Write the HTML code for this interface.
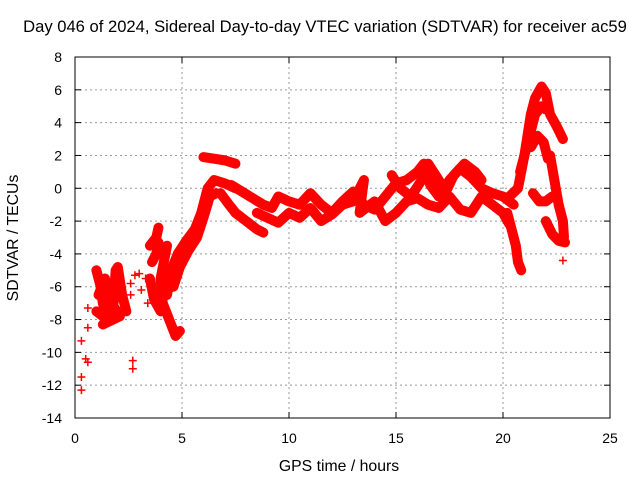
<!DOCTYPE html>
<html><head><meta charset="utf-8"><style>
body{margin:0;background:#fff}
svg{display:block;font-family:"Liberation Sans",sans-serif}
</style></head><body>
<svg id="c" width="640" height="480">
<rect width="640" height="480" fill="#fff"/>
<text x="325" y="32" font-size="16.6" text-anchor="middle">Day 046 of 2024, Sidereal Day-to-day VTEC variation (SDTVAR) for receiver ac59</text>
<text x="339" y="471" font-size="15.8" text-anchor="middle">GPS time / hours</text>
<text transform="translate(18,238) rotate(-90)" font-size="15.8" text-anchor="middle">SDTVAR / TECUs</text>
<g id="grid"></g><g id="ticks"></g><g id="marks"></g>
<rect x="75" y="57" width="535" height="361" fill="none" stroke="#000" stroke-width="1"/>
</svg>
<script>
const xTicks=[0,5,10,15,20,25];
const yTicks=[8,6,4,2,0,-2,-4,-6,-8,-10,-12,-14];
const trackRise=[[4.3,-6.5],[4.5,-5],[4.8,-4],[5.2,-3.2],[5.6,-2.5],[5.9,-1.5],[6.2,0],[6.5,0.5],[7,0.3],[7.5,0]];
const trackRise2=[[4.6,-6],[4.9,-4.8],[5.3,-3.8],[5.7,-3.0],[6.0,-1.8],[6.3,-0.5],[6.6,-0.3]];
const trackTop=[[6,1.9],[6.5,1.8],[7,1.7],[7.5,1.5]];
const trackLoop=[[4.3,-3.5],[4.0,-5.5],[4.1,-7],[4.4,-8],[4.7,-9],[4.9,-8.7]];
const trackDrop=[[6.8,-0.3],[7.2,-1],[7.5,-1.5],[8,-2],[8.5,-2.5],[8.8,-2.7]];
const trackMid=[[7.3,0.2],[7.8,-0.2],[8.3,-0.6],[8.8,-1],[9.2,-1.2],[9.5,-0.5],[10,-0.8],[10.5,-1],[11,-0.3],[11.5,-1],[12,-1.5],[12.5,-0.8],[13,-0.2],[13.5,-1],[14,-1.3],[14.5,-0.5],[15,0.3],[15.5,0.5],[16,1],[16.3,1.5],[16.6,0.2],[17,-0.5],[17.5,0.5],[18,1.2],[18.5,0.7],[19,0],[19.5,-0.3],[20,-0.5],[20.5,-1]];
const trackLow=[[8.5,-1.5],[9,-1.8],[9.5,-2.1],[10,-1.5],[10.5,-1.8],[11,-1.2],[11.5,-2],[12,-1.6],[12.5,-1],[13,-0.8],[13.5,0.5],[13.3,-1.5],[14,-0.8],[14.5,-2],[15,-1.5],[15.5,-0.8],[16,-0.6],[16.5,-1],[17,-1.2],[17.5,-0.5],[18,-1.3],[18.5,-1.5],[19,-0.5],[19.5,-1],[20,-1.5],[20.3,-2.2]];
const trackUpper=[[14.8,0.8],[15.2,0],[15.7,-0.5],[16.2,0.5],[16.5,1.5],[17,0.5],[17.3,-0.3],[17.7,0.8],[18.2,1.5],[18.7,1],[19,0.5]];
const trackSpike=[[20.2,-1.5],[20.4,-2.5],[20.6,-3.5],[20.7,-4.5],[20.85,-5]];
const trackPeak=[[20.3,-0.5],[20.7,0],[21,2],[21.3,4.5],[21.5,5.5],[21.8,6.2],[22,5.8],[22.2,4.5],[22.5,3.8],[22.8,3]];
const trackPeak2=[[20.8,1],[21.2,3],[21.5,4.5],[21.8,5],[22,4.8]];
const trackPeak3=[[21.3,2.5],[21.6,3.2],[21.9,2.8],[22.1,1.8]];
const trackSmall=[[21.4,-0.3],[21.7,-0.8],[22,-0.8],[22.3,-0.5]];
const trackRight=[[22.2,2],[22.4,0.5],[22.6,-1],[22.8,-2],[22.85,-3]];
const trackRight2=[[22.0,-2],[22.3,-2.8],[22.6,-3.2],[22.9,-3.3]];
const trackEarly=[[1.0,-5],[1.2,-6],[1.3,-7],[1.5,-8],[1.8,-7],[1.9,-5],[2.0,-4.8],[2.2,-6.5],[2.4,-7.5]];
const trackEarly2=[[1.1,-6.5],[1.4,-5.5],[1.6,-6.8],[2.1,-7.8],[1.3,-8.3]];
const trackEarly3=[[1.0,-7.5],[1.3,-7.8],[1.7,-7.2],[1.9,-6.0],[1.6,-5.8],[1.3,-6.8]];
const trackC3=[[3.5,-3.5],[3.8,-3],[3.9,-2.4]];
const trackC3b=[[3.6,-4.5],[3.8,-4.0],[3.9,-3.3]];
const trackC4=[[3.5,-5.5],[3.7,-6.8],[4.0,-7.5]];
const scatterPts=[[0.3,-9.3],[0.6,-8.5],[0.6,-7.3],[0.5,-10.4],[0.6,-10.6],[0.3,-11.5],[0.3,-12.3],[2.7,-10.5],[2.7,-11],[2.8,-5.3],[2.6,-6.5],[3.0,-5.2],[3.3,-5.5],[3.1,-6.2],[22.8,-4.4],[2.6,-5.8],[3.4,-7]];
const tracks=[trackRise,trackRise2,trackTop,trackLoop,trackDrop,trackMid,trackLow,trackUpper,trackSpike,trackPeak,trackPeak2,trackPeak3,trackSmall,trackRight,trackRight2,trackEarly,trackEarly2,trackEarly3,trackC3,trackC3b,trackC4];

const NS="http://www.w3.org/2000/svg";
const X=h=>75+h*535/25, Y=v=>57+(8-v)*361/22;
const g=document.getElementById('grid'),t=document.getElementById('ticks'),m=document.getElementById('marks');
function mk(tag,attrs,parent){const e=document.createElementNS(NS,tag);for(const k in attrs)e.setAttribute(k,attrs[k]);parent.appendChild(e);return e;}
xTicks.forEach(v=>{
  if(v>0&&v<25){const l=mk('line',{x1:X(v),x2:X(v),y1:57,y2:418,stroke:'#999','stroke-dasharray':'2,3'},g);
  
  }
  mk('line',{x1:X(v),x2:X(v),y1:418,y2:412,stroke:'#000'},t);
  mk('line',{x1:X(v),x2:X(v),y1:57,y2:63,stroke:'#000'},t);
  const tx=mk('text',{x:X(v),y:443,'font-size':14,'text-anchor':'middle'},t);tx.textContent=v;
  
  
});
yTicks.forEach(v=>{
  if(v<8&&v>-14){const l=mk('line',{x1:75,x2:610,y1:Y(v),y2:Y(v),stroke:'#999','stroke-dasharray':'2,3'},g);
  
  }
  mk('line',{x1:75,x2:81,y1:Y(v),y2:Y(v),stroke:'#000'},t);
  mk('line',{x1:610,x2:604,y1:Y(v),y2:Y(v),stroke:'#000'},t);
  const tx=mk('text',{x:62,y:Y(v)+5,'font-size':14,'text-anchor':'end'},t);tx.textContent=v;
  
  
});
function plus(h,v){
  const p=mk('path',{d:`M${X(h)-4},${Y(v)}h8M${X(h)},${Y(v)-4}v8`,stroke:'#f00','stroke-width':1.5},m);
  
  
}
tracks.forEach(tr=>{
  const pl=mk('polyline',{points:tr.map(p=>X(p[0])+','+Y(p[1])).join(' '),fill:'none',stroke:'#f00','stroke-width':10,'stroke-linejoin':'round','stroke-linecap':'round'},m);
  
  
  tr.forEach(p=>plus(p[0],p[1]));
});
scatterPts.forEach(p=>plus(p[0],p[1]));
</script>
</body></html>
